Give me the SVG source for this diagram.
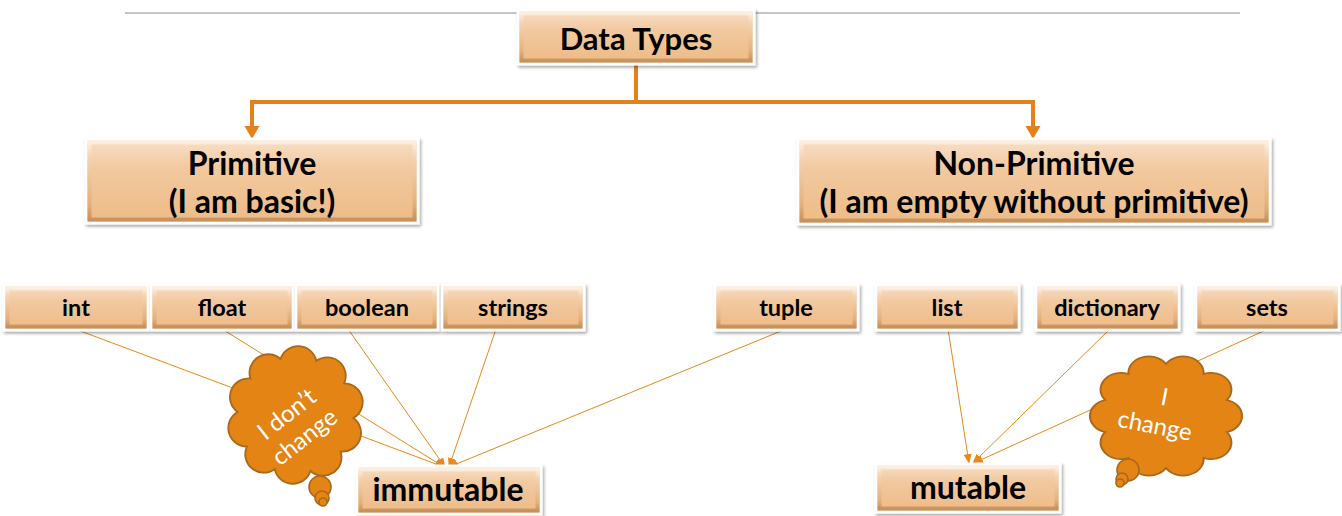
<svg xmlns="http://www.w3.org/2000/svg" width="1342" height="516" viewBox="0 0 1342 516">
<style>
.box{fill:url(#gBox);stroke:#ffffff;stroke-width:3;filter:url(#shadow)}
.bev{fill:none;stroke:url(#gBev);stroke-width:4}
.t{font-family:Lato,"Liberation Sans",sans-serif;font-weight:bold;fill:#000;text-anchor:middle}
.big{font-size:32px}
.sm{font-size:23.5px}
.ct{font-family:Lato,"Liberation Sans",sans-serif;font-size:24px;fill:#fff;text-anchor:middle}
.thick{fill:none;stroke:#E5811A;stroke-width:4}
.thin{fill:none;stroke:#E8891A;stroke-width:1;marker-end:url(#ah)}
.cloud{fill:#E48414;stroke:#A8691C;stroke-width:1.6}
</style>
<defs>
<linearGradient id="gBox" x1="0" y1="0" x2="0" y2="1">
<stop offset="0" stop-color="#f8e0c8"/>
<stop offset="0.35" stop-color="#f2c9a0"/>
<stop offset="1" stop-color="#edbb86"/>
</linearGradient>
<linearGradient id="gBev" x1="0" y1="0" x2="0" y2="1">
<stop offset="0" stop-color="#fcefe2"/>
<stop offset="0.2" stop-color="#f4d3b2"/>
<stop offset="0.8" stop-color="#e6b07a"/>
<stop offset="1" stop-color="#c9925c"/>
</linearGradient>
<filter id="shadow" x="-10%" y="-20%" width="120%" height="150%">
<feDropShadow dx="1.5" dy="2" stdDeviation="1.5" flood-color="#000" flood-opacity="0.35"/>
</filter>
<marker id="ah" markerUnits="userSpaceOnUse" markerWidth="10" markerHeight="8" refX="9" refY="4" orient="auto">
<path d="M0,0 L10,4 L0,8 Z" fill="#E8891A"/>
</marker>
<path id="cloudShape" d="M0,-50 A16,16 0 0 1 29.4,-40.45 A16,16 0 0 1 47.55,-15.45 A16,16 0 0 1 47.55,15.45 A16,16 0 0 1 29.4,40.45 A16,16 0 0 1 0,50 A16,16 0 0 1 -29.4,40.45 A16,16 0 0 1 -47.55,15.45 A16,16 0 0 1 -47.55,-15.45 A16,16 0 0 1 -29.4,-40.45 A16,16 0 0 1 0,-50 Z"/>
</defs>
<rect width="1342" height="516" fill="#ffffff"/>
<line x1="125" y1="13" x2="1240" y2="13" stroke="#8c8c8c" stroke-width="1"/>

<g id="connectors">
<path class="thick" d="M636,64 V102 H252 V127"/>
<polygon points="244.5,126 259.5,126 252,139" fill="#E5811A"/>
<path class="thick" d="M636,102 H1033 V127"/>
<polygon points="1025.5,126 1040.5,126 1033,139" fill="#E5811A"/>
<line class="thin" x1="75" y1="329" x2="444" y2="467"/>
<line class="thin" x1="222" y1="329" x2="444" y2="467"/>
<line class="thin" x1="348" y1="329" x2="445" y2="467"/>
<line class="thin" x1="496" y1="329" x2="449" y2="467"/>
<line class="thin" x1="786" y1="329" x2="449" y2="467"/>
<line class="thin" x1="948" y1="329" x2="969" y2="463"/>
<line class="thin" x1="1110" y1="329" x2="973" y2="463"/>
<line class="thin" x1="1268" y1="329" x2="974" y2="463"/>
</g>

<g id="cloud-dont-change">
<use href="#cloudShape" class="cloud" transform="translate(295.5,415) rotate(-15) scale(1.16)" vector-effect="non-scaling-stroke"/>
<circle class="cloud" cx="320" cy="487" r="11"/>
<circle class="cloud" cx="322" cy="498" r="7"/>
<circle class="cloud" cx="323" cy="502" r="4"/>
<g transform="translate(296,426) rotate(-38)">
<text class="ct" x="0" y="-7">I don’t</text>
<text class="ct" x="0" y="22">change</text>
</g>
</g>

<g id="cloud-change">
<use href="#cloudShape" class="cloud" transform="translate(1166,416) scale(1.28,1.04)" vector-effect="non-scaling-stroke"/>
<circle class="cloud" cx="1128" cy="470" r="11"/>
<circle class="cloud" cx="1122" cy="479" r="6"/>
<circle class="cloud" cx="1120" cy="483" r="4"/>
<g transform="translate(1159.5,412.5) rotate(11)">
<text class="ct" x="2" y="-8">I</text>
<text class="ct" x="-2" y="22">change</text>
</g>
</g>

<g id="data-types">
<rect class="box" x="518" y="10" width="236" height="54"/>
<rect class="bev" x="521.5" y="13.5" width="229" height="47"/>
<text class="t" x="636" y="50" style="font-size:31px">Data Types</text>
</g>

<g id="primitive">
<rect class="box" x="86" y="139" width="332" height="84"/>
<rect class="bev" x="89.5" y="142.5" width="325" height="77"/>
<text class="t big" x="252" y="175">Primitive</text>
<text class="t big" x="252" y="213">(I am basic!)</text>
</g>

<g id="non-primitive">
<rect class="box" x="798" y="139" width="472" height="85"/>
<rect class="bev" x="801.5" y="142.5" width="465" height="78"/>
<text class="t big" x="1034" y="175">Non-Primitive</text>
<text class="t big" x="1034" y="213">(I am empty without primitive)</text>
</g>

<g id="int">
<rect class="box" x="4" y="285" width="144" height="45"/>
<rect class="bev" x="7.5" y="288.5" width="137" height="38"/>
<text class="t sm" x="76" y="316">int</text>
</g>
<g id="float">
<rect class="box" x="151" y="285" width="142" height="45"/>
<rect class="bev" x="154.5" y="288.5" width="135" height="38"/>
<text class="t sm" x="222" y="316">float</text>
</g>
<g id="boolean">
<rect class="box" x="296" y="285" width="142" height="45"/>
<rect class="bev" x="299.5" y="288.5" width="135" height="38"/>
<text class="t sm" x="367" y="316">boolean</text>
</g>
<g id="strings">
<rect class="box" x="442" y="285" width="142" height="45"/>
<rect class="bev" x="445.5" y="288.5" width="135" height="38"/>
<text class="t sm" x="513" y="316">strings</text>
</g>
<g id="tuple">
<rect class="box" x="715" y="285" width="143" height="45"/>
<rect class="bev" x="718.5" y="288.5" width="136" height="38"/>
<text class="t sm" x="786" y="316">tuple</text>
</g>
<g id="list">
<rect class="box" x="876" y="285" width="143" height="45"/>
<rect class="bev" x="879.5" y="288.5" width="136" height="38"/>
<text class="t sm" x="947" y="316">list</text>
</g>
<g id="dictionary">
<rect class="box" x="1036" y="285" width="143" height="45"/>
<rect class="bev" x="1039.5" y="288.5" width="136" height="38"/>
<text class="t sm" x="1107" y="316">dictionary</text>
</g>
<g id="sets">
<rect class="box" x="1196" y="285" width="143" height="45"/>
<rect class="bev" x="1199.5" y="288.5" width="136" height="38"/>
<text class="t sm" x="1267" y="316">sets</text>
</g>

<g id="immutable">
<rect class="box" x="357" y="466" width="184" height="48"/>
<rect class="bev" x="360.5" y="469.5" width="177" height="41"/>
<text class="t big" x="448" y="501">immutable</text>
</g>
<g id="mutable">
<rect class="box" x="876" y="464" width="184" height="48"/>
<rect class="bev" x="879.5" y="467.5" width="177" height="41"/>
<text class="t big" x="968" y="499">mutable</text>
</g>
</svg>
